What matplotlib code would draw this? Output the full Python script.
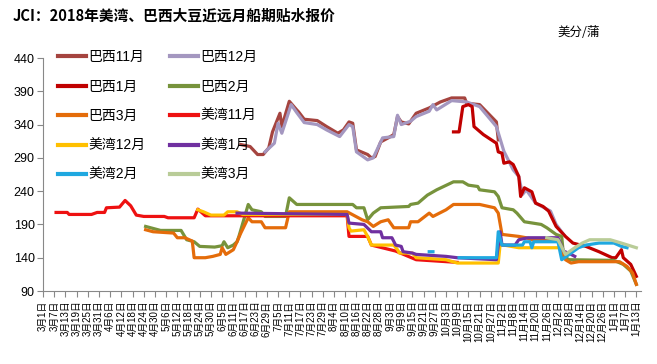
import matplotlib
matplotlib.use('Agg')
import matplotlib.pyplot as plt
import numpy as np
import pandas as pd

plt.rcParams['font.family'] = ['Liberation Sans', 'Noto Sans CJK SC', 'DejaVu Sans']

start = pd.Timestamp('2018-03-01')
tick_dates = pd.date_range('2018-03-01', '2019-01-13', freq='6D')
tick_labels = [f'{d.month}月{d.day}日' for d in tick_dates]

nan = np.nan

# 巴西11月
bx11_d = ['6-15', '6-20', '6-24', '6-27', '6-30', '7-2', '7-6', '7-7', '7-11', '7-15', '7-16', '7-19', '7-26', '7-31',
          '8-3', '8-6', '8-9', '8-12', '8-14', '8-16', '8-22', '8-24', '8-26', '8-29', '9-2', '9-5', '9-7', '9-9',
          '9-13', '9-17', '9-24', '9-30', '10-6', '10-13', '10-14', '10-21', '10-30', '10-31']
bx11_v = [310, 307, 295, 295, 305, 329, 357, 337, 375, 362, 359, 348, 346, 337,
          332, 327, 332, 344, 342, 302, 295, 290, 292, 314, 320, 325, 352, 344,
          341, 357, 365, 374, 380, 380, 372, 370, 344, 317]
# 巴西12月
bx12_d = ['6-28', '7-3', '7-5', '7-7', '7-12', '7-15', '7-19', '7-26', '7-31', '8-7', '8-12', '8-14', '8-16', '8-22',
          '8-25', '8-30', '9-5', '9-7', '9-9', '9-14', '9-17', '9-24', '9-26', '9-28', '10-6', '10-14', '10-21',
          '10-30', '11-3', '11-8', '11-11', '11-13', '11-15', '11-20', '11-28', '12-1', '12-5']
bx12_v = [299, 312, 342, 327, 370, 358, 343, 340, 332, 322, 340, 337, 299, 287,
          290, 320, 322, 354, 340, 345, 352, 360, 370, 362, 376, 374, 367,
          337, 300, 272, 262, 235, 242, 222, 210, 190, 175]
# 巴西1月
bx1_d = ['10-7', '10-10', '10-12', '10-15', '10-17', '10-18', '10-23', '10-30', '10-31', '11-2', '11-3', '11-6',
         '11-8', '11-11', '11-12', '11-14', '11-18', '11-20', '11-24', '11-27', '12-1', '12-4', '12-6', '12-10',
         '12-17', '12-24', '12-31', '1-2', '1-5', '1-6', '1-10', '1-13']
bx1_v = [329, 329, 367, 370, 367, 337, 325, 312, 299, 297, 282, 284,
         280, 262, 232, 245, 239, 222, 217, 210, 187, 178, 172, 162,
         157, 149, 140, 140, 152, 140, 130, 112]
# 巴西2月
bx2_d = ['4-25', '4-29', '5-3', '5-14', '5-17', '5-21', '5-24', '6-1', '6-5', '6-6', '6-8', '6-11', '6-13', '6-14',
         '6-19', '6-21', '6-26', '6-28', '7-9', '7-11', '7-15', '8-14', '8-16', '8-20', '8-22', '8-25', '8-29',
         '9-13', '9-14', '9-18', '9-23', '9-28', '10-7', '10-12', '10-15', '10-20', '10-21', '10-29', '10-31',
         '11-2', '11-8', '11-10', '11-14', '11-23', '11-26', '12-1', '12-4', '12-5', '12-8', '1-1', '1-6', '1-10',
         '1-13']
bx2_v = [187, 184, 181, 181, 167, 164, 157, 156, 158, 164, 155, 159, 164, 172,
         220, 212, 209, 202, 202, 230, 220, 220, 215, 215, 197, 207, 215,
         217, 220, 222, 234, 242, 254, 254, 249, 247, 242, 239, 232,
         215, 212, 207, 194, 190, 185, 175, 172, 142, 137, 136, 130, 120,
         100]
# 巴西3月
bx3_d = ['4-25', '4-29', '5-10', '5-12', '5-16', '5-20', '5-21', '5-27', '5-31', '6-4', '6-5', '6-7', '6-11', '6-13',
         '6-15', '6-19', '6-21', '6-26', '6-28', '7-9', '7-11', '8-11', '8-19', '8-22', '8-25', '8-29', '9-2',
         '9-5', '9-13', '9-14', '9-18', '9-24', '9-26', '10-3', '10-7', '10-21', '10-29', '10-31', '11-2',
         '11-11', '11-15', '11-18', '12-2', '12-3', '12-6', '12-9', '12-13', '1-4', '1-8', '1-11', '1-13']
bx3_v = [182, 179, 177, 170, 170, 165, 140, 140, 142, 145, 155, 145, 152, 164,
         177, 200, 194, 194, 185, 185, 209, 209, 197, 194, 187, 194, 197,
         185, 185, 194, 194, 207, 202, 212, 220, 220, 215, 207, 175,
         172, 170, 167, 167, 162, 137, 132, 134, 134, 127, 117, 100]
# 美湾11月
mw11_d = ['3-8', '3-14', '3-15', '3-27', '3-30', '4-3', '4-4', '4-11', '4-14', '4-17', '4-20', '4-24', '5-5', '5-7',
          '5-21', '5-23', '5-27', '6-13', '8-11', '8-12', '8-22', '8-24', '9-6', '9-17', '10-9']
mw11_v = [208, 208, 205, 205, 208, 208, 215, 216, 226, 218, 204, 202, 202, 200,
          200, 213, 203, 203, 203, 172, 172, 159, 150, 137, 133]
# 美湾12月
mw12_d = ['5-23', '5-26', '5-30', '6-6', '6-8', '6-13', '6-16', '8-11', '8-12', '8-13', '8-20', '8-22', '8-24',
          '9-5', '9-7', '9-8', '9-15', '9-17', '10-3', '10-9', '10-31', '11-1', '11-11', '12-2']
mw12_v = [212, 209, 204, 204, 209, 209, 205, 205, 185, 180, 182, 172, 159,
          159, 152, 147, 147, 140, 137, 132, 132, 160, 155, 155]
# 美湾1月
mw1_d = ['6-13', '8-11', '8-12', '8-20', '8-24', '8-29', '8-30', '9-4', '9-6', '9-9', '9-10', '9-15', '9-17',
         '10-3', '10-9', '10-30', '11-1', '11-2', '11-9', '11-11', '11-16', '12-2', '12-5', '12-9', '12-11']
mw1_v = [207, 205, 192, 190, 179, 179, 170, 170, 159, 157, 149, 147, 145,
         142, 140, 137, 179, 159, 159, 167, 170, 170, 150, 145, 142]
# 美湾2月
mw2_d = ['9-24', '9-26', '9-27', '10-10', '10-30', '10-31', '11-2', '11-13', '11-14', '11-17', '11-18', '11-19',
         '12-2', '12-4', '12-9', '12-13', '12-17', '12-24', '1-1', '1-5', '1-8']
mw2_v = [149, 149, nan, 140, 140, 179, 159, 159, 164, 164, 155, 164,
         164, 137, 147, 155, 159, 162, 162, 157, 155]
# 美湾3月
mw3_d = ['11-26', '12-2', '12-6', '12-11', '12-15', '12-19', '12-30', '1-5', '1-13']
mw3_v = [170, 167, 145, 155, 162, 167, 167, 162, 155]


def days(md):
    out = []
    for s in md:
        m, d = map(int, s.split('-'))
        y = 2018 if m >= 3 else 2019
        out.append((pd.Timestamp(y, m, d) - start).days)
    return out


series = [
    ('巴西11月', bx11_d, bx11_v, '#A5443F'),
    ('巴西12月', bx12_d, bx12_v, '#A497C0'),
    ('巴西1月', bx1_d, bx1_v, '#C00000'),
    ('巴西2月', bx2_d, bx2_v, '#77933C'),
    ('巴西3月', bx3_d, bx3_v, '#E46C0A'),
    ('美湾11月', mw11_d, mw11_v, '#EE1111'),
    ('美湾12月', mw12_d, mw12_v, '#FFC000'),
    ('美湾1月', mw1_d, mw1_v, '#7030A0'),
    ('美湾2月', mw2_d, mw2_v, '#1FA8E0'),
    ('美湾3月', mw3_d, mw3_v, '#B9CC98'),
]

fig = plt.figure(figsize=(6.57, 3.64), dpi=100)
ax = fig.add_axes([43 / 657, 1 - 291 / 364, (641 - 43) / 657, (291 - 58) / 364])

handles = []
for name, d, v, c in series:
    ln, = ax.plot(days(d), v, color=c, linewidth=2.3, label=name, solid_joinstyle='round')
    handles.append(ln)

ax.set_ylim(90, 440)
ax.set_yticks(np.arange(90, 441, 50))
ax.set_xlim(0, 320.5)
ax.set_xticks(days([f'{d.month}-{d.day}' for d in tick_dates]))
ax.set_xticklabels(tick_labels, rotation=90, fontsize=7)
ax.tick_params(axis='y', labelsize=9, direction='out', length=4, color='#888888', pad=2)
ax.tick_params(axis='x', direction='out', length=4, color='#888888', pad=3)
for s in ['top', 'right']:
    ax.spines[s].set_visible(False)
for s in ['left', 'bottom']:
    ax.spines[s].set_color('#888888')

# row-wise legend order
order = [0, 2, 4, 6, 8, 1, 3, 5, 7, 9]
leg = ax.legend([handles[i] for i in order], [series[i][0] for i in order],
                ncol=2, loc='upper left', bbox_to_anchor=(58 / 657, 1 - 50 / 364),
                bbox_transform=fig.transFigure, frameon=False, fontsize=10,
                handlelength=2.0, handletextpad=0.2, columnspacing=1.75,
                labelspacing=1.12, borderpad=0, borderaxespad=0)
for line in leg.get_lines():
    line.set_linewidth(3)

fig.text(13 / 657, 1 - 16 / 364, 'JCI：2018年美湾、巴西大豆近远月船期贴水报价', fontsize=10.6,
         fontweight='bold', va='center', ha='left', family=['Noto Sans CJK SC', 'DejaVu Sans'])
fig.text(557 / 657, 1 - 33 / 364, '美分/蒲', fontsize=9, va='center', ha='left',
         family=['Noto Sans CJK SC', 'DejaVu Sans'])

fig.savefig('out.png', dpi=100)
